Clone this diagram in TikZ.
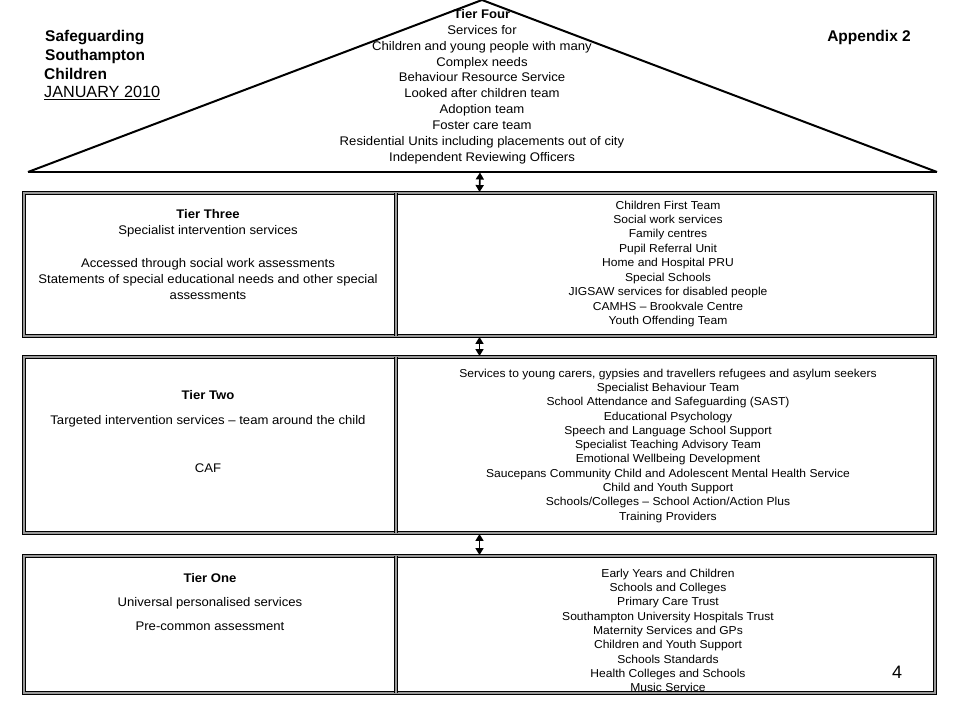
\documentclass[tikz,border=0pt]{standalone}
\usepackage{fontspec}
\setmainfont{Liberation Sans}
\newfontfamily\wfont[FakeStretch=1.05]{Liberation Sans}
\usetikzlibrary{arrows.meta}
\begin{document}
\begin{tikzpicture}[x=1pt,y=-1pt,
  tierbox/.style={draw=black, line width=0.9pt, double=black!40, double distance=1.6pt, inner sep=0pt},
  dbl/.style={draw=black, line width=0.9pt, double=black!40, double distance=1.6pt},
  lt/.style={font=\wfont\fontsize{12.5}{14}\selectfont, anchor=base, inner sep=0pt},
  ltb/.style={font=\wfont\fontsize{12.5}{14}\selectfont\bfseries, anchor=base, inner sep=0pt},
  rt/.style={font=\wfont\fontsize{11.5}{13}\selectfont, anchor=base, inner sep=0pt},
  hd/.style={font=\fontsize{15.5}{18}\selectfont\bfseries, anchor=base west, inner sep=0pt},
  link/.style={line width=1.6pt, {Triangle[length=7pt,width=8pt]}-{Triangle[length=7pt,width=8pt]}, shorten >=0.5pt, shorten <=0.5pt}
]
\useasboundingbox (0,0) rectangle (960,720);

% header
\node[hd] (h1) at (45,41) {Safeguarding};
\node[hd] (h2) at (45,60) {Southampton};
\node[hd] (h3) at (44,79) {Children};
\node[hd, font=\fontsize{16.2}{18}\selectfont] (h4) at (44,97.5) {\underline{JANUARY 2010}};
\node[hd, anchor=base east] (app) at (911,41) {Appendix 2};

% Tier four triangle
\coordinate (apex) at (482,0);
\coordinate (bl) at (28,172);
\coordinate (br) at (937,172);
\coordinate (t4b) at (480,172);
\draw[line width=2pt, line join=bevel] (bl) -- (apex) -- (br);
\draw[line width=2.5pt] (bl) -- (br);

\node[ltb] (f0) at (482,18.3) {Tier Four};
\foreach \t [count=\i from 1] in {Services for, Children and young people with many, Complex needs, Behaviour Resource Service, Looked after children team, Adoption team, Foster care team, Residential Units including placements out of city, Independent Reviewing Officers}
  \node[lt] (f\i) at (482,18.3+15.9*\i) {\t};

% Tier three
\node[ltb] (a0) at (208,218.3) {Tier Three};
\node[lt] (a1) at (208,234.3) {Specialist intervention services};
\node[lt] (a2) at (208,267.3) {Accessed through social work assessments};
\node[lt] (a3) at (208,283.3) {Statements of special educational needs and other special};
\node[lt] (a4) at (208,299.3) {assessments};
\foreach \t [count=\i from 0] in {Children First Team, Social work services, Family centres, Pupil Referral Unit, Home and Hospital PRU, Special Schools, JIGSAW services for disabled people, CAMHS – Brookvale Centre, Youth Offending Team}
  \node[rt] (b\i) at (668,209+14.45*\i) {\t};

% Tier two
\node[ltb] (c0) at (208,399.3) {Tier Two};
\node[lt] (c1) at (208,424.3) {Targeted intervention services – team around the child};
\node[lt] (c2) at (208,472.3) {CAF};
\foreach \t [count=\i from 0] in {{Services to young carers, gypsies and travellers refugees and asylum seekers}, Specialist Behaviour Team, School Attendance and Safeguarding (SAST), Educational Psychology, Speech and Language School Support, Specialist Teaching Advisory Team, Emotional Wellbeing Development, Saucepans Community Child and Adolescent Mental Health Service, Child and Youth Support, Schools/Colleges – School Action/Action Plus, Training Providers}
  \node[rt] (d\i) at (668,377.3+14.27*\i) {\t};

% Tier one
\node[ltb] (e0) at (210,582) {Tier One};
\node[lt] (e1) at (210,606) {Universal personalised services};
\node[lt] (e2) at (210,630) {Pre-common assessment};
\foreach \t [count=\i from 0] in {Early Years and Children, Schools and Colleges, Primary Care Trust, Southampton University Hospitals Trust, Maternity Services and GPs, Children and Youth Support, Schools Standards, Health Colleges and Schools, Music Service}
  \node[rt] (g\i) at (668,577.3+14.3*\i) {\t};

% boxes
\node[tierbox, minimum width=911pt, minimum height=143pt] (t3) at (479.5,264.5) {};
\node[tierbox, minimum width=911pt, minimum height=176pt] (t2) at (479.5,445) {};
\node[tierbox, minimum width=911pt, minimum height=137pt] (t1) at (479.5,624.5) {};
\coordinate (dv) at (396,0);
\draw[dbl] (t3.north -| dv) -- (t3.south -| dv);
\draw[dbl] (t2.north -| dv) -- (t2.south -| dv);
\draw[dbl] (t1.north -| dv) -- (t1.south -| dv);

% links
\draw[link] (t4b) -- (t3.north);
\draw[link] (t3.south) -- (t2.north);
\draw[link] (t2.south) -- (t1.north);

\node[font=\fontsize{18}{20}\selectfont, inner sep=0pt] (pg) at (897,672) {4};
\end{tikzpicture}
\end{document}
